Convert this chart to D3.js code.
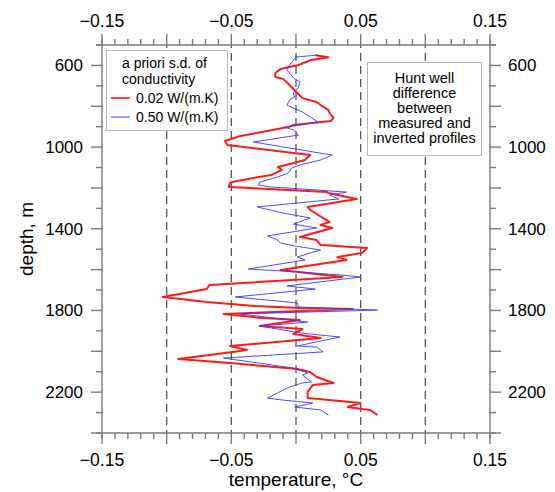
<!DOCTYPE html>
<html>
<head>
<meta charset="utf-8">
<script src="https://cdn.jsdelivr.net/npm/d3@7"></script>
<style>
  body { margin: 0; background: #fff; }
  svg { display: block; font-family: "Liberation Sans", Arial, sans-serif; }
</style>
</head>
<body>
<script>
// canvas size
var width = 555
var height = 492
var margin = {top: 45, right: 65, bottom: 59, left: 102}

// red series: a priori s.d. 0.02 W/(m.K)
const redTemp = [0.015, 0.025, 0.012, 0.002, -0.012, -0.016, -0.016, -0.010, -0.005, 0.001, 0.005, 0.016, 0.019, 0.025, 0.026, 0.029, 0.027, -0.002, -0.006, -0.043, -0.055, -0.053, 0.011, 0.007, -0.014, -0.011, -0.019, -0.033, -0.049, -0.051, -0.052, 0.024, 0.025, 0.047, 0.009, 0.011, 0.026, 0.019, 0.028, 0.003, 0.016, 0.019, 0.055, 0.051, 0.032, 0.039, -0.012, 0.036, -0.067, -0.069, -0.103, -0.069, -0.032, 0.003, 0.044, -0.056, -0.026, 0.003, -0.028, 0.005, -0.002, 0.019, -0.051, -0.038, -0.049, -0.091, -0.051, 0.001, 0.011, 0.016, 0.029, 0.013, 0.009, 0.009, 0.050, 0.040, 0.057, 0.063]
const redDepth = [550, 560, 573, 598, 618, 637, 657, 666, 696, 735, 760, 779, 794, 818, 833, 857, 872, 892, 902, 946, 970, 990, 1039, 1063, 1097, 1112, 1137, 1151, 1171, 1176, 1195, 1220, 1225, 1254, 1293, 1308, 1367, 1381, 1396, 1440, 1455, 1479, 1494, 1519, 1538, 1553, 1602, 1636, 1675, 1695, 1734, 1759, 1778, 1788, 1793, 1817, 1837, 1847, 1876, 1891, 1915, 1935, 1974, 1994, 2003, 2038, 2057, 2087, 2101, 2126, 2155, 2165, 2199, 2229, 2253, 2273, 2287, 2312]

// blue series: a priori s.d. 0.50 W/(m.K)
const blueTemp = [0.017, 0.000, -0.003, -0.005, -0.007, -0.005, -0.002, 0.003, 0.002, -0.002, -0.001, -0.005, -0.007, -0.002, 0.005, 0.011, 0.017, -0.002, -0.009, -0.002, 0.002, -0.033, 0.028, 0.019, 0.003, -0.003, -0.006, -0.014, -0.028, -0.029, -0.020, -0.007, 0.039, 0.026, 0.033, -0.030, -0.010, 0.011, -0.002, 0.016, -0.022, -0.014, -0.012, -0.001, 0.019, 0.001, 0.007, -0.037, 0.003, 0.034, 0.050, -0.007, 0.015, -0.047, 0.001, 0.002, 0.063, -0.043, 0.009, -0.028, 0.003, 0.034, 0.016, 0.001, 0.016, 0.021, -0.056, -0.002, 0.009, 0.005, 0.012, 0.005, -0.005, -0.010, -0.022, -0.010, 0.013, -0.001, 0.019, 0.025]
const blueDepth = [549, 559, 583, 598, 622, 637, 662, 681, 706, 735, 755, 769, 794, 809, 828, 853, 877, 897, 902, 916, 941, 975, 1039, 1063, 1088, 1102, 1127, 1146, 1171, 1186, 1195, 1200, 1220, 1235, 1254, 1293, 1323, 1347, 1377, 1396, 1435, 1455, 1470, 1484, 1504, 1538, 1553, 1597, 1612, 1626, 1636, 1680, 1695, 1734, 1763, 1783, 1798, 1817, 1857, 1876, 1910, 1930, 1954, 1974, 1979, 2003, 2033, 2082, 2106, 2116, 2150, 2155, 2175, 2190, 2229, 2239, 2253, 2273, 2287, 2312]

// axis ticks and labels
const tempDomain = [-0.15, 0.15]
const depthDomain = [500, 2400]
const tempMajor = [-0.15, -0.1, -0.05, 0, 0.05, 0.1, 0.15]
const tempLabels = [-0.15, -0.05, 0.05, 0.15]
const tempGrid = [-0.1, -0.05, 0, 0.05, 0.1]
const depthMajor = [600, 800, 1000, 1200, 1400, 1600, 1800, 2000, 2200, 2400]
const depthLabels = [600, 1000, 1400, 1800, 2200]

const legendTitle = ["a priori s.d. of", "conductivity"]
const seriesNames = ["0.02 W/(m.K)", "0.50 W/(m.K)"]
const seriesColors = ["#ff1a1a", "#3a3aff"]
const noteLines = ["Hunt well", "difference", "between", "measured and", "inverted profiles"]

const svg = d3.select("body").append("svg")
  .attr("width", width)
  .attr("height", height)

var x = d3.scaleLinear().domain(tempDomain).range([margin.left, width - margin.right])
var y = d3.scaleLinear().domain(depthDomain).range([margin.top, height - margin.bottom])

var x0 = x.range()[0], x1 = x.range()[1]
var y0 = y.range()[0], y1 = y.range()[1]

var axisColor = "#7a7a7a"
var MAJ = 11, MIN = 6

// minor tick values, skipping majors
var tempMinor = d3.range(-150, 151, 10).filter(v => v % 50 != 0).map(v => v / 1000)
var depthMinor = d3.range(500, 2401, 100).filter(v => v % 200 != 0)

// dashed vertical grid
svg.append("g").selectAll("line")
  .data(tempGrid)
  .enter().append("line")
  .attr("x1", d => x(d)).attr("x2", d => x(d))
  .attr("y1", y0).attr("y2", y1)
  .style("stroke", "#555")
  .style("stroke-width", 1.3)
  .style("stroke-dasharray", "8,5")
  .style("stroke-dashoffset", -8)

// frame/axes
var frame = svg.append("g").style("stroke", axisColor).style("stroke-width", 1.4)
frame.append("line").attr("x1", x0 - 6).attr("x2", x1 + 6).attr("y1", y0).attr("y2", y0)
frame.append("line").attr("x1", x0 - 6).attr("x2", x1 + 6).attr("y1", y1).attr("y2", y1)
frame.append("line").attr("x1", x0).attr("x2", x0).attr("y1", y0 - 6).attr("y2", y1 + 6)
frame.append("line").attr("x1", x1).attr("x2", x1).attr("y1", y0 - 6).attr("y2", y1 + 6)

// top + bottom ticks
;[[y0, -1], [y1, 1]].forEach(function(p){
  tempMajor.forEach(function(v){
    frame.append("line").attr("x1", x(v)).attr("x2", x(v)).attr("y1", p[0]).attr("y2", p[0] + p[1] * MAJ)
  })
  tempMinor.forEach(function(v){
    frame.append("line").attr("x1", x(v)).attr("x2", x(v)).attr("y1", p[0]).attr("y2", p[0] + p[1] * MIN)
  })
})
// left + right ticks
;[[x0, -1], [x1, 1]].forEach(function(p){
  depthMajor.forEach(function(v){
    frame.append("line").attr("y1", y(v)).attr("y2", y(v)).attr("x1", p[0]).attr("x2", p[0] + p[1] * MAJ)
  })
  depthMinor.forEach(function(v){
    frame.append("line").attr("y1", y(v)).attr("y2", y(v)).attr("x1", p[0]).attr("x2", p[0] + p[1] * MIN)
  })
})

var fmt = d => d3.format(".2f")(d)

// tick labels
svg.append("g").selectAll("text").data(tempLabels).enter().append("text")
  .attr("x", d => x(d)).attr("y", 27)
  .attr("text-anchor", "middle").attr("font-size", "17.5px")
  .text(fmt)
svg.append("g").selectAll("text").data(tempLabels).enter().append("text")
  .attr("x", d => x(d)).attr("y", 466)
  .attr("text-anchor", "middle").attr("font-size", "17.5px")
  .text(fmt)
svg.append("g").selectAll("text").data(depthLabels).enter().append("text")
  .attr("x", x0 - 19).attr("y", d => y(d) + 6)
  .attr("text-anchor", "end").attr("font-size", "17px")
  .text(d => d)
svg.append("g").selectAll("text").data(depthLabels).enter().append("text")
  .attr("x", x1 + 18).attr("y", d => y(d) + 6)
  .attr("text-anchor", "start").attr("font-size", "17px")
  .text(d => d)

// axis titles
svg.append("text")
  .attr("x", x(0)).attr("y", 486)
  .attr("text-anchor", "middle").attr("font-size", "19px")
  .text("temperature, °C")
svg.append("text")
  .attr("transform", "translate(33," + ((y0 + y1) / 2) + ") rotate(-90)")
  .attr("text-anchor", "middle").attr("font-size", "19px")
  .text("depth, m")

// profiles
var line = d3.line().x(d => x(d[0])).y(d => y(d[1]))
var red = redTemp.map((t, i) => [t, redDepth[i]])
var blue = blueTemp.map((t, i) => [t, blueDepth[i]])

svg.append("path").datum(red)
  .attr("d", line)
  .style("fill", "none").style("stroke", seriesColors[0])
  .style("stroke-width", 2).style("stroke-linejoin", "round")
svg.append("path").datum(blue)
  .attr("d", line)
  .style("fill", "none").style("stroke", seriesColors[1])
  .style("stroke-width", 1).style("stroke-linejoin", "round")
  .style("opacity", 0.9)

// legend box
var lg = svg.append("g")
lg.append("rect")
  .attr("x", 106.5).attr("y", 50.5).attr("width", 121).attr("height", 80)
  .style("fill", "white").style("stroke", "#b8b8b8").style("stroke-width", 1)
lg.selectAll(".lt").data(legendTitle).enter().append("text")
  .attr("x", 122).attr("y", (d, i) => 68 + i * 16)
  .attr("font-size", "14px")
  .text(d => d)
seriesNames.forEach(function(name, i){
  var yy = 98 + i * 19
  lg.append("line")
    .attr("x1", 111).attr("x2", 130).attr("y1", yy).attr("y2", yy)
    .style("stroke", seriesColors[i]).style("stroke-width", i == 0 ? 1.6 : 1)
  lg.append("text")
    .attr("x", 136).attr("y", yy + 5)
    .attr("font-size", "14px")
    .text(name)
})

// note box
var nb = svg.append("g")
nb.append("rect")
  .attr("x", 367.5).attr("y", 62.5).attr("width", 114).attr("height", 93)
  .style("fill", "white").style("stroke", "#b8b8b8").style("stroke-width", 1)
nb.selectAll("text").data(noteLines).enter().append("text")
  .attr("x", 424.5).attr("y", (d, i) => 83 + i * 15)
  .attr("text-anchor", "middle").attr("font-size", "14.5px")
  .text(d => d)
</script>
</body>
</html>
